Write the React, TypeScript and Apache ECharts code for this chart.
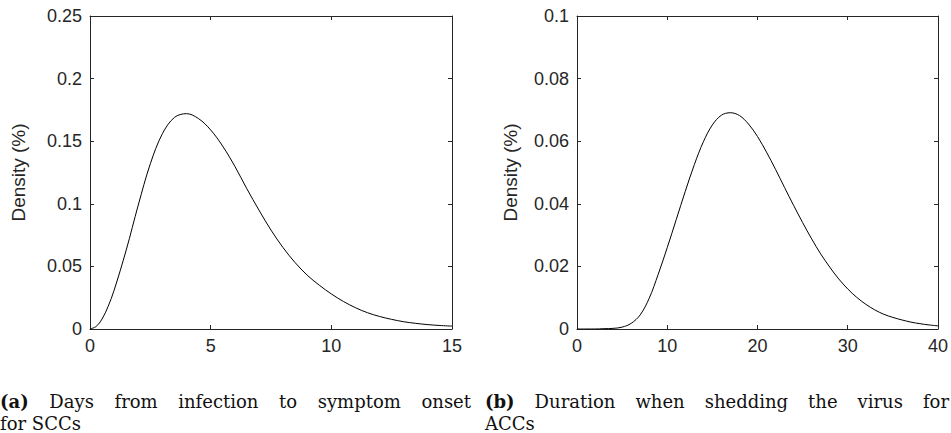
import React, { useEffect, useRef } from "react";
import * as echarts from "echarts";

// ---- data ----
const onsetDays = [0, 0.25, 0.5, 0.75, 1, 1.5, 2, 2.5, 3, 3.5, 4, 4.5, 5, 5.5, 6, 6.5, 7, 7.5, 8, 8.5, 9, 9.5, 10, 10.5, 11, 11.5, 12, 12.5, 13, 13.5, 14, 14.5, 15];
const onsetDensity = [0, 0.002, 0.008, 0.018, 0.031, 0.063, 0.099, 0.132, 0.156, 0.169, 0.172, 0.168, 0.159, 0.146, 0.13, 0.112, 0.095, 0.079, 0.065, 0.053, 0.043, 0.035, 0.028, 0.022, 0.017, 0.013, 0.01, 0.0077, 0.0058, 0.0045, 0.0035, 0.0028, 0.0023];

const shedDays = [0, 1, 2, 3, 4, 5, 6, 7, 8, 9, 10, 11, 12, 13, 14, 15, 16, 17, 18, 19, 20, 21, 22, 23, 24, 25, 26, 27, 28, 29, 30, 31, 32, 33, 34, 35, 36, 37, 38, 39, 40];
const shedDensity = [0, 0, 0, 0.0001, 0.0002, 0.0006, 0.0018, 0.0045, 0.0098, 0.0175, 0.026, 0.035, 0.044, 0.0525, 0.0598, 0.0652, 0.0683, 0.0691, 0.0682, 0.0655, 0.0615, 0.0565, 0.051, 0.0452, 0.0395, 0.034, 0.0288, 0.024, 0.0198, 0.016, 0.0128, 0.0101, 0.0079, 0.0061, 0.0047, 0.0037, 0.0029, 0.0022, 0.0017, 0.0013, 0.001];

const onsetXAxis = { min: 0, max: 15, interval: 5 };
const onsetYAxis = { min: 0, max: 0.25, interval: 0.05 };
const shedXAxis = { min: 0, max: 40, interval: 10 };
const shedYAxis = { min: 0, max: 0.1, interval: 0.02 };

const yAxisTitle = "Density (%)";
const captionA = { tag: "(a)", line1: ["Days", "from", "infection", "to", "symptom", "onset"], line2: "for SCCs" };
const captionB = { tag: "(b)", line1: ["Duration", "when", "shedding", "the", "virus", "for"], line2: "ACCs" };

// ---- styling ----
const AX = "#262626";
const SANS = "'Liberation Sans', Arial, Helvetica, sans-serif";
const SERIF = "'DejaVu Serif', serif";
const TICK_FS = 18;
const CAP_FS = 18;

const panels = [
  { left: 90, top: 16, width: 362, height: 313, x: onsetXAxis, y: onsetYAxis, nameGap: 62 },
  { left: 577, top: 16, width: 361, height: 313, x: shedXAxis, y: shedYAxis, nameGap: 57 },
];

function measure(text: string, font: string): number {
  const c = document.createElement("canvas").getContext("2d")!;
  c.font = font;
  return c.measureText(text).width;
}

function captionGraphics(cap: { tag: string; line1: string[]; line2: string }, x0: number, width: number) {
  const reg = `${CAP_FS}px ${SERIF}`;
  const bold = `bold ${CAP_FS}px ${SERIF}`;
  const words = [{ t: cap.tag, b: true }, ...cap.line1.map((t) => ({ t, b: false }))];
  const widths = words.map((w) => measure(w.t, w.b ? bold : reg));
  const total = widths.reduce((a, b) => a + b, 0);
  const gap = (width - total) / (words.length - 1);
  const els: any[] = [];
  let x = x0;
  const yBase1 = 410;
  const yBase2 = 432;
  words.forEach((w, i) => {
    els.push({
      type: "text",
      x,
      y: yBase1,
      style: {
        text: w.t,
        fontFamily: SERIF,
        fontSize: CAP_FS,
        fontWeight: w.b ? "bold" : "normal",
        fill: "#111",
        verticalAlign: "bottom",
        align: "left",
      },
    });
    x += widths[i] + gap;
  });
  els.push({
    type: "text",
    x: x0,
    y: yBase2,
    style: { text: cap.line2, fontFamily: SERIF, fontSize: CAP_FS, fill: "#111", verticalAlign: "bottom", align: "left" },
  });
  return els;
}

export default function App() {
  const ref = useRef<HTMLDivElement>(null);
  useEffect(() => {
    document.body.style.margin = "0";
    const chart = echarts.init(ref.current!, undefined, { renderer: "svg" });
    const grids = panels.map((p) => ({ left: p.left, top: p.top, width: p.width, height: p.height, containLabel: false }));
    const xAxes: any[] = [];
    const yAxes: any[] = [];
    panels.forEach((p, gi) => {
      const lineStyle = { color: AX, width: 1 };
      xAxes.push({
        type: "value", gridIndex: gi, position: "bottom", min: p.x.min, max: p.x.max, interval: p.x.interval,
        axisLine: { show: true, onZero: false, lineStyle }, axisTick: { show: true, inside: true, length: 4, lineStyle },
        axisLabel: { show: true, color: AX, fontSize: TICK_FS, fontFamily: SANS, margin: 8 }, splitLine: { show: false },
      });
      xAxes.push({
        type: "value", gridIndex: gi, position: "top", min: p.x.min, max: p.x.max, interval: p.x.interval,
        axisLine: { show: true, onZero: false, lineStyle }, axisTick: { show: true, inside: true, length: 4, lineStyle },
        axisLabel: { show: false }, splitLine: { show: false },
      });
      yAxes.push({
        type: "value", gridIndex: gi, position: "left", min: p.y.min, max: p.y.max, interval: p.y.interval,
        name: yAxisTitle, nameLocation: "middle", nameGap: p.nameGap, nameRotate: 90,
        nameTextStyle: { color: AX, fontSize: 19, fontFamily: SANS },
        axisLine: { show: true, onZero: false, lineStyle }, axisTick: { show: true, inside: true, length: 4, lineStyle },
        axisLabel: { show: true, color: AX, fontSize: TICK_FS, fontFamily: SANS, margin: 8 }, splitLine: { show: false },
      });
      yAxes.push({
        type: "value", gridIndex: gi, position: "right", min: p.y.min, max: p.y.max, interval: p.y.interval,
        axisLine: { show: true, onZero: false, lineStyle }, axisTick: { show: true, inside: true, length: 4, lineStyle },
        axisLabel: { show: false }, splitLine: { show: false },
      });
    });
    const series = [
      { xs: onsetDays, ys: onsetDensity, gi: 0 },
      { xs: shedDays, ys: shedDensity, gi: 1 },
    ].map((s) => ({
      type: "line",
      xAxisIndex: s.gi * 2,
      yAxisIndex: s.gi * 2,
      data: s.xs.map((x, i) => [x, s.ys[i]]),
      showSymbol: false,
      smooth: 0.35,
      lineStyle: { color: "#000", width: 1 },
      silent: true,
    }));
    chart.setOption({
      animation: false,
      backgroundColor: "#fff",
      grid: grids,
      xAxis: xAxes,
      yAxis: yAxes,
      series,
      graphic: [...captionGraphics(captionA, 0, 471), ...captionGraphics(captionB, 485, 464)],
    });
    return () => chart.dispose();
  }, []);
  return <div ref={ref} style={{ position: "fixed", left: 0, top: 0, width: 951, height: 433 }} />;
}
